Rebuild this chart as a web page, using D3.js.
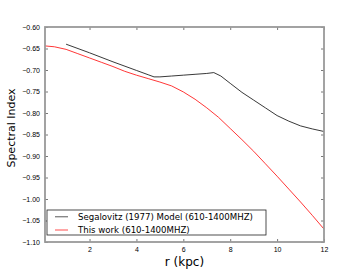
<!DOCTYPE html>
<html>
<head>
  <meta charset="utf-8">
  <style>
    html, body { margin: 0; padding: 0; background: #fff; }
    svg { display: block; font-family: "DejaVu Sans", sans-serif; }
  </style>
</head>
<body>
  <svg id="chart" width="360" height="270"></svg>
  <script src="https://d3js.org/d3.v7.min.js"></script>
  <script>
    // radius in kpc and spectral index values
    const segR = [1, 2, 3, 4, 4.5, 4.75, 5, 5.5, 6, 6.5, 7, 7.3, 7.6, 8, 8.5, 9, 9.5, 10, 10.5, 11, 11.5, 12];
    const segIndex = [-0.640, -0.660, -0.681, -0.701, -0.711, -0.716, -0.716, -0.714, -0.712, -0.710, -0.708, -0.706,
                      -0.714, -0.731, -0.752, -0.770, -0.788, -0.806, -0.819, -0.830, -0.837, -0.843];
    const workR = [0.1, 0.5, 1, 1.5, 2, 2.5, 3, 3.5, 4, 4.5, 5, 5.5, 6, 6.5, 7, 7.5, 8, 8.5, 9, 9.5, 10, 10.5, 11, 11.5, 12];
    const workIndex = [-0.644, -0.646, -0.652, -0.662, -0.672, -0.682, -0.692, -0.703, -0.712, -0.720, -0.728, -0.737,
                       -0.751, -0.768, -0.788, -0.810, -0.836, -0.862, -0.889, -0.918, -0.947, -0.977, -1.007, -1.038, -1.070];
    const xTicks = [2, 4, 6, 8, 10, 12];
    const yTicks = [-0.60, -0.65, -0.70, -0.75, -0.80, -0.85, -0.90, -0.95, -1.00, -1.05, -1.10];
    const seriesNames = ["Segalovitz (1977) Model (610-1400MHZ)", "This work (610-1400MHZ)"];

    const svg = d3.select("#chart");
    const mLeft = 45, mRight = 324, mTop = 27, mBottom = 242;

    const x = d3.scaleLinear().domain([0.1, 12]).range([mLeft, mRight]);
    const y = d3.scaleLinear().domain([-1.10, -0.60]).range([mBottom, mTop]);

    const fmt = d => d3.format(".2f")(d).replace("-", "\u2212");

    // ticks pointing inward on all four sides
    const axes = [
      d3.axisBottom(x).tickValues(xTicks).tickSize(-3).tickPadding(5).tickFormat(d3.format("d")),
      d3.axisTop(x).tickValues(xTicks).tickSize(-3).tickFormat(""),
      d3.axisLeft(y).tickValues(yTicks).tickSize(-3).tickPadding(5).tickFormat(fmt),
      d3.axisRight(y).tickValues(yTicks).tickSize(-3).tickFormat("")
    ];
    const shifts = [`0,${mBottom}`, `0,${mTop}`, `${mLeft},0`, `${mRight},0`];
    axes.forEach((ax, i) => {
      const g = svg.append("g").attr("transform", `translate(${shifts[i]})`).call(ax);
      g.select(".domain").remove();
      g.selectAll(".tick line").attr("stroke", "#555").attr("stroke-width", 0.8);
      g.selectAll(".tick text").attr("font-size", 7).attr("fill", "#000");
    });

    const line = d3.line().x(d => x(d[0])).y(d => y(d[1]));
    svg.append("path")
      .datum(segR.map((r, i) => [r, segIndex[i]]))
      .attr("d", line).attr("fill", "none").attr("stroke", "#222").attr("stroke-width", 0.9);
    svg.append("path")
      .datum(workR.map((r, i) => [r, workIndex[i]]))
      .attr("d", line).attr("fill", "none").attr("stroke", "#ff2020").attr("stroke-width", 0.9);

    // frame
    svg.append("rect")
      .attr("x", mLeft).attr("y", mTop)
      .attr("width", mRight - mLeft).attr("height", mBottom - mTop)
      .attr("fill", "none").attr("stroke", "#999").attr("stroke-width", 1.8);

    // legend
    const leg = svg.append("g").attr("transform", "translate(47,210)");
    leg.append("rect").attr("width", 219).attr("height", 25)
      .attr("fill", "#fff").attr("stroke", "#222").attr("stroke-width", 0.8);
    const legColors = ["#888", "#ff8080"];
    seriesNames.forEach((name, i) => {
      const yy = 6.7 + i * 13.3;
      leg.append("line").attr("x1", 8).attr("x2", 21).attr("y1", yy).attr("y2", yy)
        .attr("stroke", legColors[i]).attr("stroke-width", 1.4);
      leg.append("text").attr("x", 31).attr("y", yy + 3.1)
        .attr("font-size", 8.6).text(name);
    });

    svg.append("text").attr("x", (mLeft + mRight) / 2).attr("y", 266)
      .attr("text-anchor", "middle").attr("font-size", 12).text("r (kpc)");
    svg.append("text")
      .attr("transform", "translate(15,128) rotate(-90)")
      .attr("text-anchor", "middle").attr("font-size", 11).text("Spectral Index");
  </script>
</body>
</html>
